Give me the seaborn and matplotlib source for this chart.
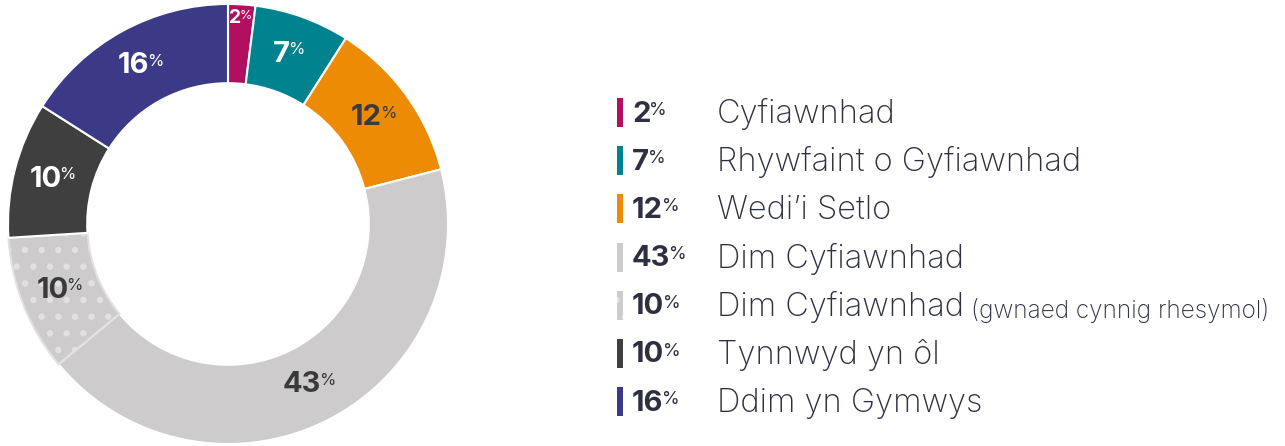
import matplotlib
matplotlib.use("Agg")
import matplotlib.pyplot as plt
import seaborn as sns
import numpy as np

# data
labels = ["Cyfiawnhad", "Rhywfaint o Gyfiawnhad", "Wedi\u2019i Setlo", "Dim Cyfiawnhad",
          "Dim Cyfiawnhad", "Tynnwyd yn \u00f4l", "Ddim yn Gymwys"]
label_notes = ["", "", "", "", "(gwnaed cynnig rhesymol)", "", ""]
values = [2, 7, 12, 43, 10, 10, 16]
colors = ["#B0105F", "#00838F", "#EE8B05", "#CDCBCC", "#CDCBCC", "#3F3F3F", "#3C3A86"]
hatches = [None, None, None, None, ".", None, None]
text_colors = ["white", "white", "#3A3A3A", "#3A3A3A", "#3A3A3A", "white", "white"]

sns.set_theme(style="white")
plt.rcParams["font.family"] = ["Inter", "DejaVu Sans"]
plt.rcParams["hatch.linewidth"] = 2.2
palette = sns.color_palette(colors)

W, H = 1285, 446
fig = plt.figure(figsize=(W / 100, H / 100), dpi=100)

# donut
cx, cy, R = 228, 224, 220
ax = fig.add_axes([(cx - R) / W, (H - cy - R) / H, 2 * R / W, 2 * R / H])
ring = 0.36
wedges, _ = ax.pie(values, colors=palette, startangle=90, counterclock=False, radius=1,
                   wedgeprops=dict(width=ring, edgecolor="white", linewidth=1.5))
for w, h in zip(wedges, hatches):
    if h:
        w.set_hatch(h)
        w.set_edgecolor("#E2E1E2")
ax.set_aspect("equal")
ax.set_xlim(-1, 1)
ax.set_ylim(-1, 1)
ax.axis("off")

for w, v, tc in zip(wedges, values, text_colors):
    ang = np.deg2rad((w.theta1 + w.theta2) / 2)
    small = v < 5
    r = 0.94 if small else 1 - ring / 2
    x, y = r * np.cos(ang), r * np.sin(ang)
    t = ax.text(x - (0.025 if small else 0.035), y, str(v), ha="center", va="center",
                fontsize=14 if small else 21, fontweight="bold", color=tc)
    ax.annotate("%", xy=(1, 1), xycoords=t, xytext=(-1.5, -1), textcoords="offset points",
                ha="left", va="top", fontsize=9 if small else 12, color=tc)

# legend
lax = fig.add_axes([0, 0, 1, 1])
lax.set_xlim(0, W)
lax.set_ylim(H, 0)
lax.axis("off")
rows = [113 + i * 48.2 for i in range(len(values))]
for i, (lab, note, v, c, h) in enumerate(zip(labels, label_notes, values, palette, hatches)):
    yy = rows[i]
    lax.add_patch(plt.Rectangle((617, yy - 15), 6, 29, facecolor=c, edgecolor="#E2E1E2",
                                linewidth=0, hatch=h))
    t = lax.text(632, yy + 1, str(v), ha="left", va="center", fontsize=21,
                 fontweight="bold", color="#2D3040")
    lax.annotate("%", xy=(1, 1), xycoords=t, xytext=(-1, -1), textcoords="offset points",
                 ha="left", va="top", fontsize=13, color="#2D3040")
    lt = lax.text(717, yy + 1, lab, ha="left", va="center", fontsize=23.5,
                  fontweight="light", color="#2D3040")
    if note:
        lax.annotate(note, xy=(1, 0), xycoords=lt, xytext=(5, 0), textcoords="offset points",
                     ha="left", va="bottom", fontsize=17.5, fontweight="light", color="#2D3040")

fig.savefig("out.png", dpi=100, facecolor="white")
